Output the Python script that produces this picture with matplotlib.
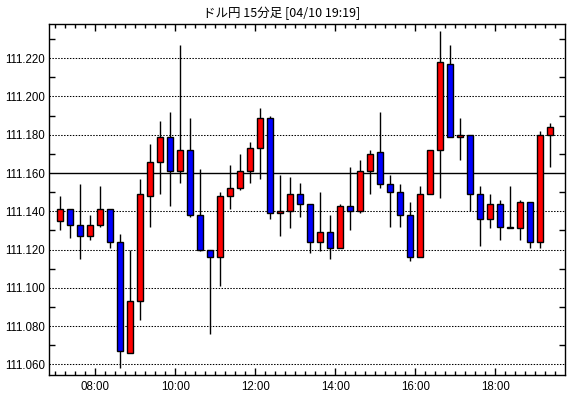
import matplotlib
matplotlib.use("Agg")
import matplotlib.pyplot as plt
from matplotlib.ticker import MultipleLocator, FixedLocator

times = ["07:00", "07:15", "07:30", "07:45", "08:00", "08:15", "08:30", "08:45",
         "09:00", "09:15", "09:30", "09:45", "10:00", "10:15", "10:30", "10:45",
         "11:00", "11:15", "11:30", "11:45", "12:00", "12:15", "12:30", "12:45",
         "13:00", "13:15", "13:30", "13:45", "14:00", "14:15", "14:30", "14:45",
         "15:00", "15:15", "15:30", "15:45", "16:00", "16:15", "16:30", "16:45",
         "17:00", "17:15", "17:30", "17:45", "18:00", "18:15", "18:30", "18:45",
         "19:00", "19:15"]

opens = [111.135, 111.141, 111.133, 111.127, 111.133, 111.141, 111.124, 111.066, 111.093, 111.148,
         111.166, 111.179, 111.161, 111.172, 111.138, 111.120, 111.116, 111.148, 111.152, 111.161,
         111.173, 111.189, 111.139, 111.140, 111.149, 111.144, 111.124, 111.129, 111.121, 111.143,
         111.140, 111.161, 111.171, 111.154, 111.150, 111.138, 111.116, 111.149, 111.172, 111.217,
         111.179, 111.180, 111.149, 111.136, 111.144, 111.132, 111.131, 111.145, 111.124, 111.180]
highs = [111.148, 111.141, 111.154, 111.138, 111.153, 111.141, 111.128, 111.120, 111.157, 111.175,
         111.187, 111.192, 111.227, 111.189, 111.162, 111.120, 111.150, 111.164, 111.170, 111.176,
         111.194, 111.190, 111.159, 111.158, 111.155, 111.144, 111.150, 111.138, 111.144, 111.163,
         111.167, 111.172, 111.192, 111.159, 111.154, 111.145, 111.153, 111.172, 111.234, 111.227,
         111.189, 111.180, 111.153, 111.149, 111.146, 111.153, 111.146, 111.145, 111.182, 111.186]
lows = [111.130, 111.126, 111.115, 111.125, 111.132, 111.121, 111.058, 111.066, 111.083, 111.132,
        111.149, 111.143, 111.155, 111.137, 111.119, 111.076, 111.101, 111.141, 111.151, 111.155,
        111.157, 111.136, 111.127, 111.131, 111.137, 111.118, 111.119, 111.115, 111.121, 111.130,
        111.139, 111.149, 111.152, 111.132, 111.132, 111.114, 111.116, 111.149, 111.147, 111.179,
        111.167, 111.140, 111.122, 111.131, 111.125, 111.131, 111.125, 111.121, 111.121, 111.163]
closes = [111.141, 111.133, 111.127, 111.133, 111.141, 111.124, 111.067, 111.093, 111.149, 111.166,
          111.179, 111.161, 111.172, 111.138, 111.120, 111.116, 111.148, 111.152, 111.161, 111.173,
          111.189, 111.139, 111.140, 111.149, 111.144, 111.124, 111.129, 111.121, 111.143, 111.140,
          111.161, 111.170, 111.154, 111.150, 111.138, 111.116, 111.149, 111.172, 111.218, 111.179,
          111.180, 111.149, 111.136, 111.144, 111.132, 111.131, 111.145, 111.124, 111.180, 111.184]

ref_price = 111.160
ytick_vals = [111.060, 111.080, 111.100, 111.120, 111.140, 111.160, 111.180, 111.200, 111.220]
xtick_labels = ["08:00", "10:00", "12:00", "14:00", "16:00", "18:00"]
title = "ドル円 15分足 [04/10 19:19]"


def to_min(s):
    h, m = s.split(":")
    return int(h) * 60 + int(m)


W, H = 570, 398
fig = plt.figure(figsize=(W / 100, H / 100), dpi=100)
ax = fig.add_axes([49 / W, 1 - 375 / H, (565 - 49) / W, (375 - 24) / H])

xs = [to_min(t) + 7.5 for t in times]
body_w = 9.0

# grid lines
for v in ytick_vals:
    if abs(v - ref_price) < 1e-9:
        ax.axhline(v, color="black", lw=1.0, zorder=1)
    else:
        ax.axhline(v, color="black", lw=0.75, linestyle=(0, (1.4, 1.4)), zorder=1)

for x, o, h, l, c in zip(xs, opens, highs, lows, closes):
    col = "#ff0000" if c >= o else "#0000ff"
    ax.vlines(x, l, h, color="black", lw=1.0, zorder=2)
    bottom = min(o, c)
    height = max(abs(c - o), 0.0006)
    ax.bar(x, height, bottom=bottom, width=body_w, color=col,
           edgecolor="black", linewidth=1.0, zorder=3)

ax.set_xlim(to_min("06:50") + 0.5, to_min("19:44") + 0.5)
ax.set_ylim(111.0544, 111.2379)

ax.xaxis.set_major_locator(FixedLocator([to_min(t) for t in xtick_labels]))
ax.set_xticklabels(xtick_labels)
ax.xaxis.set_minor_locator(MultipleLocator(15))
ax.yaxis.set_major_locator(FixedLocator(ytick_vals))
ax.set_yticklabels([f"{v:.3f}" for v in ytick_vals])
ax.yaxis.set_minor_locator(MultipleLocator(0.010))

ax.tick_params(axis="both", which="both", direction="in", top=True, right=True,
               width=1.0, color="black")
ax.tick_params(axis="x", which="major", length=5, pad=4)
ax.tick_params(axis="x", which="minor", length=3)
ax.tick_params(axis="y", which="major", length=0, pad=3)
ax.tick_params(axis="y", which="minor", length=4)
for lab in ax.get_xticklabels() + ax.get_yticklabels():
    lab.set_fontfamily("Liberation Sans")
    lab.set_fontsize(8.3)

for sp in ax.spines.values():
    sp.set_linewidth(1.0)
    sp.set_color("black")

fig.text(282 / W, 1 - 13 / H, title, ha="center", va="center", fontsize=9,
         family=["Noto Sans CJK JP", "DejaVu Sans"])

fig.savefig("out.png", dpi=100, facecolor="white")
